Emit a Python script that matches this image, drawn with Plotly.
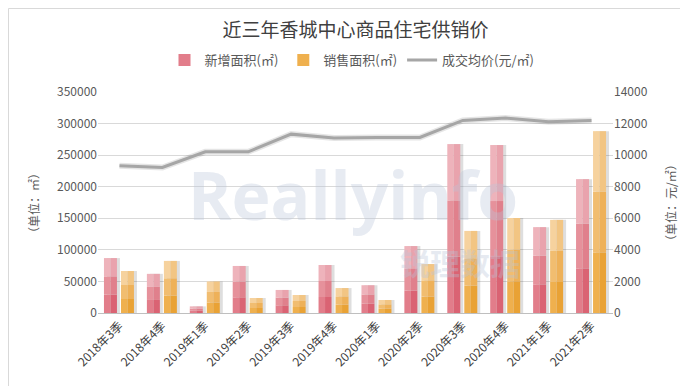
import plotly.graph_objects as go

categories = ["2018年3季", "2018年4季", "2019年1季", "2019年2季", "2019年3季", "2019年4季",
              "2020年1季", "2020年2季", "2020年3季", "2020年4季", "2021年1季", "2021年2季"]
new_area = [87000, 62000, 10500, 74500, 36500, 76000, 44000, 106000, 267500, 266000, 136000, 212000]
sold_area = [66500, 82500, 50000, 23800, 28500, 39500, 20600, 77500, 130000, 150500, 147500, 288000]
avg_price = [9330, 9220, 10210, 10210, 11330, 11080, 11120, 11120, 12200, 12350, 12110, 12200]

W, H = 688, 386
L, R, T, B = 90, 83, 84, 81
PW, PH = W - L - R, H - T - B
def px(x): return (x - L) / PW
def py(y): return (T + PH - y) / PH

FONT = "Noto Sans CJK SC, Microsoft YaHei, sans-serif"
cat_px = PW / len(categories)
bw = 13 / cat_px
half = bw / 2

fig = go.Figure()

series = [
    ("新增面积(㎡)", new_area, -15.5 / cat_px,
     [("#e27d8a", "#da6373"), ("#e6919b", "#e0808c"), ("#eeb3bb", "#e9a3ad")]),
    ("销售面积(㎡)", sold_area, 1.5 / cat_px,
     [("#efb04e", "#e9a235"), ("#f1bd70", "#eeb159"), ("#f6d29e", "#f2c583")]),
]

for idx, (name, vals, off, shades) in enumerate(series):
    # soft shadow to the right
    fig.add_trace(go.Bar(x=categories, y=vals, offset=off + 3 / cat_px, width=bw,
                         marker=dict(color="rgba(0,0,0,0.13)", line=dict(width=0)),
                         showlegend=False, hoverinfo="skip", yaxis="y"))
    thirds = [v / 3 for v in vals]
    for k, (cl, cr) in enumerate(shades):
        base = [k * t for t in thirds]
        fig.add_trace(go.Bar(x=categories, y=thirds, base=base, offset=off, width=half,
                             marker=dict(color=cl, line=dict(width=0)),
                             showlegend=(k == 0), name=name, legendgroup=name,
                             legendrank=idx + 1, yaxis="y"))
        fig.add_trace(go.Bar(x=categories, y=thirds, base=base, offset=off + half, width=half,
                             marker=dict(color=cr, line=dict(width=0)),
                             showlegend=False, name=name, legendgroup=name, yaxis="y"))

fig.add_trace(go.Scatter(x=categories, y=avg_price, mode="lines", yaxis="y2",
                         line=dict(color="rgba(0,0,0,0.10)", width=6),
                         showlegend=False, hoverinfo="skip"))
fig.add_trace(go.Scatter(x=categories, y=avg_price, mode="lines", yaxis="y2",
                         name="成交均价(元/㎡)", legendrank=3,
                         line=dict(color="#a6a6a6", width=3)))

WM = "rgba(185,196,216,0.34)"
annotations = [
    dict(text="<b>Reallyinfo</b>", x=px(345), y=py(186), xref="paper", yref="paper",
         showarrow=False, font=dict(family="Open Sans, Arial, sans-serif", size=66, color=WM),
         xanchor="center", yanchor="middle"),
    dict(text="<b>锐理数据</b>", x=px(452), y=py(254), xref="paper", yref="paper",
         showarrow=False, font=dict(family=FONT, size=30, color=WM),
         xanchor="center", yanchor="middle"),
    dict(text="（单位：㎡）", x=px(25), y=py(195), xref="paper", yref="paper",
         showarrow=False, textangle=-90, font=dict(family=FONT, size=12, color="#595959"),
         xanchor="center", yanchor="middle"),
    dict(text="（单位：元/㎡）", x=px(662), y=py(195), xref="paper", yref="paper",
         showarrow=False, textangle=-90, font=dict(family=FONT, size=12, color="#595959"),
         xanchor="center", yanchor="middle"),
]

fig.update_layout(
    width=W, height=H,
    margin=dict(l=L, r=R, t=T, b=B),
    paper_bgcolor="white", plot_bgcolor="white",
    barmode="overlay",
    font=dict(family=FONT, size=12, color="#595959"),
    title=dict(text="近三年香城中心商品住宅供销价", x=0.5, xref="paper", xanchor="center",
               y=1 - 22 / H, yanchor="middle",
               font=dict(family=FONT, size=19, color="#404040")),
    legend=dict(orientation="h", x=px(344), xanchor="center", y=py(52), yanchor="middle",
                font=dict(family=FONT, size=13, color="#595959"), traceorder="normal",
                bgcolor="rgba(0,0,0,0)"),
    xaxis=dict(tickangle=-45, showgrid=False, showline=True, linecolor="#bfbfbf",
               ticks="", tickfont=dict(size=12, color="#404040")),
    yaxis=dict(range=[0, 350000], dtick=50000, showgrid=True, gridcolor="#d9d9d9",
               zeroline=False, showline=False, tickformat="d",
               tickfont=dict(size=12, color="#595959")),
    yaxis2=dict(range=[0, 14000], dtick=2000, overlaying="y", side="right",
                showgrid=False, zeroline=False, showline=False, tickformat="d",
                tickfont=dict(size=12, color="#595959")),
    annotations=annotations,
    shapes=[dict(type="rect", xref="paper", yref="paper",
                 x0=px(0.5), x1=px(687.5), y0=py(385.5), y1=py(0.5),
                 line=dict(color="#d9d9d9", width=1), layer="below")],
)

fig.write_html("out.html")
